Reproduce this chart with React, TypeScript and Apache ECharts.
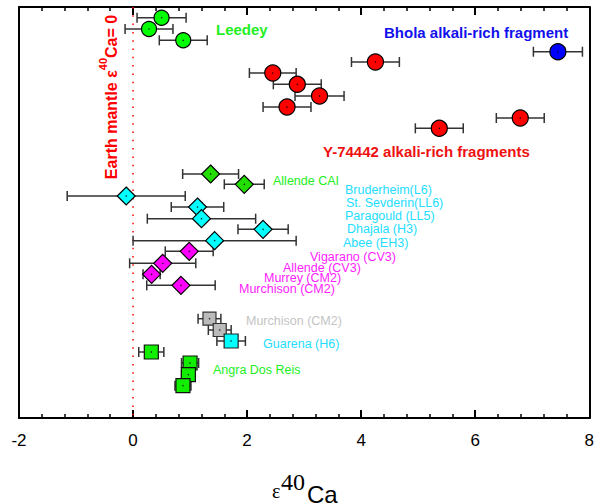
import React, { useEffect, useRef } from "react";
import * as echarts from "echarts";

// x values (epsilon 40Ca), their half error bars and vertical row positions
const leedeyX = [0.5, 0.28, 0.88];
const leedeyErr = [0.43, 0.42, 0.42];
const leedeyY = [10.7, 22, 33.3];

const y74442X = [2.45, 2.88, 3.27, 2.7, 4.25, 5.37, 6.79];
const y74442Err = [0.41, 0.42, 0.43, 0.42, 0.42, 0.42, 0.42];
const y74442Y = [66, 77.3, 89, 100, 55, 121.3, 111];

const bholaX = [7.45];
const bholaErr = [0.43];
const bholaY = [44.7];

const caiX = [1.36, 1.95];
const caiErr = [0.49, 0.35];
const caiY = [167, 177.3];

const ordX = [-0.12, 1.13, 1.2, 2.28, 1.43];
const ordErr = [1.035, 0.46, 0.95, 0.44, 1.43];
const ordY = [189, 200, 211.7, 222.3, 233.7];

const carbX = [0.985, 0.52, 0.325, 0.84];
const carbErr = [0.42, 0.58, 0.15, 0.6];
const carbY = [244.3, 256.3, 267.3, 278.3];

const murchX = [1.34, 1.52];
const murchErr = [0.2, 0.2];
const murchY = [311.7, 323];

const guarenaX = [1.72];
const guarenaErr = [0.25];
const guarenaY = [334];

const adorX = [0.32, 1.0, 0.97, 0.875];
const adorErr = [0.22, 0.15, 0.12, 0.14];
const adorY = [345, 356, 367.7, 378.7];

const xTicks = [-2, 0, 2, 4, 6, 8];
const earthMantle = 0;
const rowMin = 0;
const rowMax = 411;

const SANS = "'Liberation Sans', Arial, sans-serif";
const SERIF = "'Liberation Serif', 'Times New Roman', serif";

const GREEN = "#00ff00";
const RED = "#ff0000";
const BLUE = "#0000ff";
const CYAN = "#00ffff";
const MAGENTA = "#ff00ff";
const GRAY = "#bbbbbb";

type Grp = {
  x: number[];
  err: number[];
  y: number[];
  symbol: string;
  size: number;
  color: string;
  border: string;
};

const groups: Grp[] = [
  { x: leedeyX, err: leedeyErr, y: leedeyY, symbol: "circle", size: 15, color: GREEN, border: "#000" },
  { x: y74442X, err: y74442Err, y: y74442Y, symbol: "circle", size: 16, color: RED, border: "#000" },
  { x: bholaX, err: bholaErr, y: bholaY, symbol: "circle", size: 16, color: BLUE, border: "#000" },
  { x: caiX, err: caiErr, y: caiY, symbol: "diamond", size: 18, color: "#22dd00", border: "#000" },
  { x: ordX, err: ordErr, y: ordY, symbol: "diamond", size: 18, color: CYAN, border: "#000" },
  { x: carbX, err: carbErr, y: carbY, symbol: "diamond", size: 18, color: MAGENTA, border: "#000" },
  { x: murchX, err: murchErr, y: murchY, symbol: "rect", size: 13, color: GRAY, border: "#333" },
  { x: guarenaX, err: guarenaErr, y: guarenaY, symbol: "rect", size: 14, color: CYAN, border: "#222" },
  { x: adorX, err: adorErr, y: adorY, symbol: "rect", size: 14, color: "#11ee00", border: "#111" },
];

function txt(text: string, x: number, y: number, color: string, size: number, bold = false) {
  return {
    type: "text",
    x,
    y,
    z: 100,
    style: {
      text,
      fill: color,
      font: `${bold ? "bold " : ""}${size}px ${SANS}`,
      textAlign: "left",
      textVerticalAlign: "middle",
    },
  };
}

export default function App() {
  const ref = useRef<HTMLDivElement>(null);
  useEffect(() => {
    if (!ref.current) return;
    const chart = echarts.init(ref.current, undefined, { renderer: "svg" });

    const errData: number[][] = [];
    const dotData: number[][] = [];
    groups.forEach((g) => {
      g.x.forEach((v, i) => {
        errData.push([v, g.y[i], g.err[i]]);
        dotData.push([v, g.y[i]]);
      });
    });

    const series: any[] = [
      {
        type: "line",
        data: [
          [earthMantle, rowMin],
          [earthMantle, rowMax],
        ],
        showSymbol: false,
        symbol: "none",
        lineStyle: { color: RED, width: 1.5, type: [1.5, 6.8] },
        z: 1,
        silent: true,
      },
      {
        type: "custom",
        data: errData,
        encode: { x: 0, y: 1 },
        z: 2,
        renderItem: (params: any, api: any) => {
          const x = api.value(0);
          const y = api.value(1);
          const e = api.value(2);
          const p1 = api.coord([x - e, y]);
          const p2 = api.coord([x + e, y]);
          const h = 5;
          const st = { stroke: "#333", lineWidth: 1.5 };
          return {
            type: "group",
            children: [
              { type: "line", shape: { x1: p1[0], y1: p1[1], x2: p2[0], y2: p2[1] }, style: st },
              { type: "line", shape: { x1: p1[0], y1: p1[1] - h, x2: p1[0], y2: p1[1] + h }, style: st },
              { type: "line", shape: { x1: p2[0], y1: p2[1] - h, x2: p2[0], y2: p2[1] + h }, style: st },
            ],
          };
        },
      },
    ];
    groups.forEach((g) => {
      series.push({
        type: "scatter",
        data: g.x.map((v, i) => [v, g.y[i]]),
        symbol: g.symbol,
        symbolSize: g.size,
        itemStyle: { color: g.color, borderColor: g.border, borderWidth: 1.2, opacity: 1 },
        z: 3,
      });
    });
    series.push({
      type: "scatter",
      data: dotData,
      symbol: "circle",
      symbolSize: 1.5,
      itemStyle: { color: "#000" },
      z: 4,
    });

    const axisBase = {
      type: "value",
      min: xTicks[0],
      max: xTicks[xTicks.length - 1],
      interval: 2,
      splitLine: { show: false },
      axisLine: { show: true, onZero: false, lineStyle: { color: "#000", width: 2 } },
      axisTick: { show: true, inside: true, length: 8, lineStyle: { color: "#000", width: 2 } },
      minorTick: { show: true, splitNumber: 5, length: 4, lineStyle: { color: "#000", width: 1.5 } },
      minorSplitLine: { show: false },
    };

    chart.setOption({
      animation: false,
      backgroundColor: "#fff",
      grid: { left: 19, right: 6, top: 7, bottom: 86 },
      xAxis: [
        {
          ...axisBase,
          position: "bottom",
          axisLabel: { show: true, fontSize: 17, color: "#000", fontFamily: SANS, margin: 14 },
        },
        {
          ...axisBase,
          position: "top",
          axisLabel: { show: false },
        },
      ],
      yAxis: [
        {
          type: "value",
          min: rowMin,
          max: rowMax,
          inverse: true,
          position: "left",
          splitLine: { show: false },
          axisLine: { show: true, onZero: false, lineStyle: { color: "#000", width: 2 } },
          axisTick: { show: false },
          axisLabel: { show: false },
        },
        {
          type: "value",
          min: rowMin,
          max: rowMax,
          inverse: true,
          position: "right",
          splitLine: { show: false },
          axisLine: { show: true, onZero: false, lineStyle: { color: "#000", width: 2 } },
          axisTick: { show: false },
          axisLabel: { show: false },
        },
      ],
      series,
      graphic: [
        txt("Leedey", 216, 29, "#22ee22", 15, true),
        txt("Bhola alkali-rich fragment", 384, 32, "#1111ee", 15, true),
        txt("Y-74442 alkali-rich fragments", 323, 151, "#ee1111", 15, true),
        txt("Allende CAI", 273, 181, "#22ee22", 12.5),
        txt("Bruderheim(L6)", 345, 190, "#22ddff", 12.5),
        txt("St. Sevderin(LL6)", 346, 203, "#22ddff", 12.5),
        txt("Paragould (LL5)", 345, 216, "#22ddff", 12.5),
        txt("Dhajala (H3)", 347, 229, "#22ddff", 12.5),
        txt("Abee (EH3)", 343, 243, "#22ddff", 12.5),
        txt("Vigarano (CV3)", 310, 257, "#ff22ff", 12.5),
        txt("Allende (CV3)", 283, 268, "#ff22ff", 12.5),
        txt("Murrey (CM2)", 264, 278, "#ff22ff", 12.5),
        txt("Murchison (CM2)", 239, 289, "#ff22ff", 12.5),
        txt("Murchison (CM2)", 246, 321, "#c4c4c4", 12.5),
        txt("Guarena (H6)", 263, 344, "#22ddff", 12.5),
        txt("Angra Dos Reis", 213, 370, "#22ee22", 12.5),
        {
          type: "text",
          x: 108,
          y: 97,
          rotation: Math.PI / 2,
          z: 100,
          style: {
            text: "{a|Earth mantle ε}{s|40}{a|Ca= 0}",
            textAlign: "center",
            textVerticalAlign: "middle",
            rich: {
              a: { fontSize: 16, fontWeight: "bold", fontFamily: SANS, fill: RED, color: RED, lineHeight: 22, verticalAlign: "bottom" },
              s: { fontSize: 11, fontWeight: "bold", fontFamily: SANS, fill: RED, color: RED, lineHeight: 22, verticalAlign: "top" },
            },
          },
        },
        {
          type: "text",
          x: 272,
          y: 501,
          z: 100,
          style: { text: "ε", fill: "#000", font: `20px ${SERIF}`, textAlign: "left", textVerticalAlign: "bottom" },
        },
        {
          type: "text",
          x: 281,
          y: 470,
          z: 100,
          style: { text: "40", fill: "#000", font: `24px ${SERIF}`, textAlign: "left", textVerticalAlign: "top" },
        },
        {
          type: "text",
          x: 307,
          y: 506,
          z: 100,
          style: { text: "Ca", fill: "#000", font: `24px ${SANS}`, textAlign: "left", textVerticalAlign: "bottom" },
        },
      ],
    });
    return () => chart.dispose();
  }, []);
  return <div ref={ref} style={{ width: 597, height: 504, position: "absolute", left: 0, top: 0 }} />;
}
